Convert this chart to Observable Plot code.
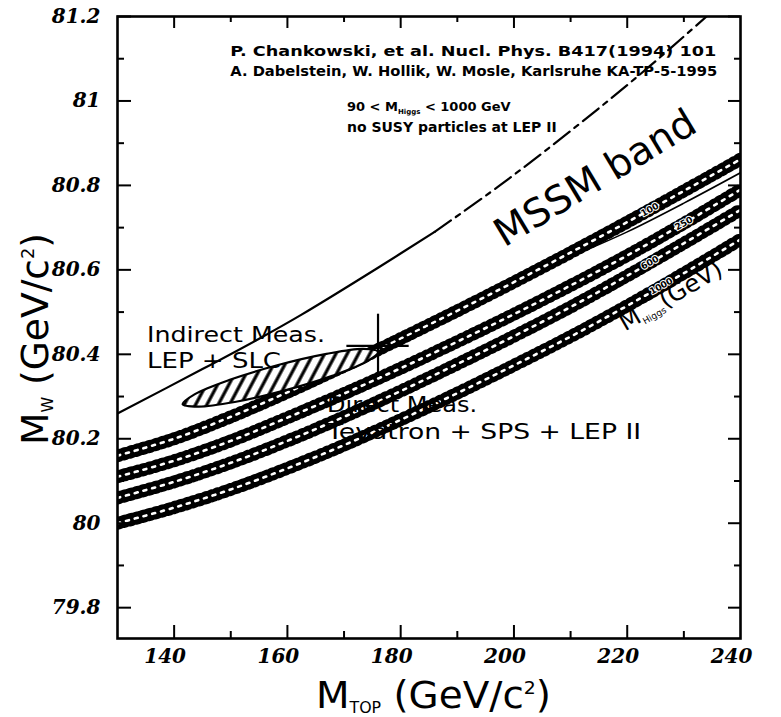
<!DOCTYPE html>
<html>
<head>
<meta charset="utf-8">
<script src="https://cdn.jsdelivr.net/npm/d3@7"></script>
<script src="https://cdn.jsdelivr.net/npm/@observablehq/plot@0.6"></script>
<style>
html,body{margin:0;padding:0;background:#fff;}
#chart svg{display:block;}
</style>
</head>
<body>
<div id="chart"></div>
<script>
// ---------- data ----------
const mTop = [130, 140, 150, 160, 170, 180, 190, 200, 210, 220, 230, 240];
const higgsMasses = ["100", "250", "600", "1000"];
const mwH100  = [80.16, 80.20, 80.252, 80.31, 80.372, 80.437, 80.503, 80.571, 80.641, 80.713, 80.787, 80.862];
const mwH250  = [80.11, 80.148, 80.195, 80.25, 80.307, 80.367, 80.43, 80.495, 80.563, 80.634, 80.71, 80.79];
const mwH600  = [80.06, 80.098, 80.143, 80.195, 80.252, 80.313, 80.377, 80.443, 80.512, 80.586, 80.663, 80.742];
const mwH1000 = [80.00, 80.037, 80.08, 80.13, 80.185, 80.245, 80.308, 80.374, 80.442, 80.515, 80.592, 80.672];
const higgsLabelM = [224, 230, 224, 226];

const mssmUpperM = [130, 145, 155, 162.5, 176, 186, 197.5, 211.5, 223.5, 234];
const mssmUpperW = [80.26, 80.365, 80.437, 80.494, 80.605, 80.69, 80.80, 80.945, 81.077, 81.2];
const mssmSolidCount = 6;
const mssmLowerM = [170, 180, 190, 200, 210, 220, 230, 240];
const mssmLowerW = [80.368, 80.432, 80.497, 80.563, 80.63, 80.69, 80.758, 80.83];

const indirectM = [176.0, 173.4, 166.9, 158.2, 149.7, 143.6, 141.5, 144.2, 150.7, 159.4, 167.9, 174.0];
const indirectW = [80.406, 80.413, 80.401, 80.374, 80.339, 80.305, 80.282, 80.276, 80.287, 80.314, 80.349, 80.383];

const directM = 176, directMErr = 5.5, directW = 80.42, directWErr = 0.075;

const xMajorTicks = [140, 160, 180, 200, 220];
const xMinorTicks = [150, 170, 190, 210, 230];
const xTickValues = [140, 160, 180, 200, 220, 240];
const xTickLabels = ["140", "160", "180", "200", "220", "240"];
const yTickValues = [79.8, 80, 80.2, 80.4, 80.6, 80.8, 81, 81.2];
const yTickLabels = ["79.8", "80", "80.2", "80.4", "80.6", "80.8", "81", "81.2"];
const yMinorTicks = [79.9, 80.1, 80.3, 80.5, 80.7, 80.9, 81.1];

// ---------- tables built from the arrays ----------
const bandSeries = [mwH100, mwH250, mwH600, mwH1000];
const bandRows = [];
higgsMasses.forEach((h, k) => mTop.forEach((m, i) => bandRows.push({h, m, w: bandSeries[k][i]})));
const bandLabelRows = higgsMasses.map((h, k) => ({
  h, m: higgsLabelM[k], w: d3.scaleLinear(mTop, bandSeries[k])(higgsLabelM[k])
}));
const upperRows = mssmUpperM.map((m, i) => ({m, w: mssmUpperW[i]}));
const upperSolid = upperRows.slice(0, mssmSolidCount);
const upperDashed = upperRows.slice(mssmSolidCount - 1);
const lowerRows = mssmLowerM.map((m, i) => ({m, w: mssmLowerW[i]}));
const ellipseRows = indirectM.map((m, i) => ({m, w: indirectW[i]}));
const directRow = [{m: directM, w: directW, m1: directM - directMErr, m2: directM + directMErr, w1: directW - directWErr, w2: directW + directWErr}];

// ---------- layout ----------
const W = 781, H = 717, mL = 117, mT = 16, mR = 41, mB = 79;
const innerW = W - mL - mR, innerH = H - mT - mB;
const serifTick = {fontFamily: "DejaVu Serif", fontWeight: "bold", fontStyle: "italic", fontSize: 20};

const plot = Plot.plot({
  width: W, height: H,
  marginLeft: mL, marginRight: mR, marginTop: mT, marginBottom: mB,
  x: {domain: [130, 240], axis: null},
  y: {domain: [79.727, 81.2], axis: null},
  style: {background: "#fff", color: "#000", fontFamily: "DejaVu Sans", overflow: "visible"},
  marks: [
    // Higgs mass bands (SM)
    Plot.line(bandRows, {x: "m", y: "w", z: "h", stroke: "#000", strokeWidth: 9.5, curve: "catmull-rom", clip: true}),
    Plot.line(bandRows, {x: "m", y: "w", z: "h", stroke: "#000", strokeWidth: 13, strokeDasharray: "2,4.5", curve: "catmull-rom", clip: true}),
    Plot.line(bandRows, {x: "m", y: "w", z: "h", stroke: "#fff", strokeWidth: 2.6, strokeDasharray: "3,6", curve: "catmull-rom", clip: true}),
    Plot.text(bandLabelRows, {x: "m", y: "w", text: "h", rotate: -29, fontSize: 9, fontWeight: "bold", fill: "#000", stroke: "#fff", strokeWidth: 2}),
    // MSSM band edges
    Plot.line(upperSolid, {x: "m", y: "w", stroke: "#000", strokeWidth: 2.2, curve: "catmull-rom", clip: true}),
    Plot.line(upperDashed, {x: "m", y: "w", stroke: "#000", strokeWidth: 2.2, strokeDasharray: "20,6,5,6", curve: "catmull-rom", clip: true}),
    Plot.line(lowerRows, {x: "m", y: "w", stroke: "#000", strokeWidth: 1.6, curve: "catmull-rom", clip: true}),
    // indirect measurement ellipse
    Plot.line(ellipseRows, {x: "m", y: "w", stroke: "#000", strokeWidth: 2.2, fill: "url(#hatch)", curve: "catmull-rom-closed"}),
    // direct measurement cross
    Plot.ruleY(directRow, {y: "w", x1: "m1", x2: "m2", stroke: "#000", strokeWidth: 2.2}),
    Plot.ruleX(directRow, {x: "m", y1: "w1", y2: "w2", stroke: "#000", strokeWidth: 2.2}),
    Plot.dot(directRow, {x: "m", y: "w", r: 3, fill: "#000"}),
    // inward ticks
    Plot.tickX(xMajorTicks, {x: d => d, insetTop: innerH - 13, strokeWidth: 2}),
    Plot.tickX(xMinorTicks, {x: d => d, insetTop: innerH - 7, strokeWidth: 2}),
    Plot.tickX(xMajorTicks, {x: d => d, insetBottom: innerH - 12, strokeWidth: 2}),
    Plot.tickX(xMinorTicks, {x: d => d, insetBottom: innerH - 6, strokeWidth: 2}),
    Plot.tickY(yTickValues, {y: d => d, insetRight: innerW - 14, strokeWidth: 2}),
    Plot.tickY(yMinorTicks, {y: d => d, insetRight: innerW - 7, strokeWidth: 2}),
    Plot.tickY(yTickValues, {y: d => d, insetLeft: innerW - 12, strokeWidth: 2}),
    Plot.tickY(yMinorTicks, {y: d => d, insetLeft: innerW - 6, strokeWidth: 2}),
    // tick labels
    Plot.axisY(yTickValues, {anchor: "left", tickSize: 0, tickPadding: 17, label: null,
      tickFormat: d => yTickLabels[yTickValues.indexOf(d)], ...serifTick}),
    Plot.axisX(xTickValues, {anchor: "bottom", tickSize: 0, tickPadding: 10, label: null, dx: -9,
      tickFormat: d => xTickLabels[xTickValues.indexOf(d)], ...serifTick}),
    Plot.frame({stroke: "#000", strokeWidth: 2.6})
  ]
});

document.getElementById("chart").appendChild(plot);

// ---------- hatch pattern for the ellipse ----------
const root = d3.select(plot);
const defs = root.insert("defs", ":first-child");
const pat = defs.append("pattern").attr("id", "hatch").attr("patternUnits", "userSpaceOnUse")
  .attr("width", 10).attr("height", 10).attr("patternTransform", "rotate(28)");
pat.append("rect").attr("width", 10).attr("height", 10).attr("fill", "#fff");
pat.append("line").attr("x1", 2).attr("y1", 0).attr("x2", 2).attr("y2", 10).attr("stroke", "#000").attr("stroke-width", 3.2);

// ---------- annotations positioned through the plot's scales ----------
const sx = plot.scale("x"), sy = plot.scale("y");
const X = v => sx.apply(v), Y = v => sy.apply(v);
const g = root.append("g").attr("class", "annotations").attr("fill", "#000");

function addText(x, y, parts, o = {}) {
  const t = g.append("text").attr("x", x).attr("y", y)
    .attr("font-family", o.family || "DejaVu Sans")
    .attr("font-size", o.size || 14)
    .attr("font-weight", o.weight || "normal")
    .attr("text-anchor", o.anchor || "start");
  if (o.rotate) t.attr("transform", `rotate(${o.rotate},${x},${y})`);
  if (o.length) t.attr("textLength", o.length).attr("lengthAdjust", "spacingAndGlyphs");
  let shift = 0;
  parts.forEach(p => {
    if (typeof p === "string") {
      t.append("tspan").attr("dy", -shift).text(p); shift = 0;
    } else {
      t.append("tspan").attr("font-size", p.size).attr("dy", p.dy - shift).text(p.t);
      shift = p.dy;
    }
  });
  return t;
}

// references and conditions
addText(X(150), Y(81.105), ["P. Chankowski, et al. Nucl. Phys. B417(1994) 101"], {size: 14, weight: "bold", length: 486});
addText(X(150), Y(81.058), ["A. Dabelstein, W. Hollik, W. Mosle, Karlsruhe KA-TP-5-1995"], {size: 14, weight: "bold", length: 487});
addText(X(170.6), Y(80.975), ["90 < M", {t: "Higgs", size: 7, dy: 3}, " < 1000 GeV"], {size: 13, weight: "bold"});
addText(X(170.6), Y(80.926), ["no SUSY particles at LEP II"], {size: 14, weight: "bold"});

// band labels
addText(X(215.6), Y(80.79), ["MSSM band"], {size: 39, anchor: "middle", rotate: -31});
addText(X(219.7), Y(80.453), ["M", {t: "Higgs", size: 9, dy: 4}, "(GeV)"], {size: 24, rotate: -30});

// measurement labels
addText(X(135.3), Y(80.428), ["Indirect Meas."], {size: 22, length: 178});
addText(X(135.3), Y(80.367), ["LEP + SLC"], {size: 22, length: 134});
addText(X(167.1), Y(80.263), ["Direct Meas."], {size: 22, length: 150});
addText(X(167.1), Y(80.198), ["Tevatron + SPS + LEP II"], {size: 22, length: 314});

// axis titles
const [r0, r1] = sx.range, [q0, q1] = sy.range;
addText((r0 + r1) / 2 + 5, H - 9, ["M", {t: "TOP", size: 15, dy: 5}, " (GeV/c", {t: "2", size: 18, dy: -14}, ")"], {size: 37, anchor: "middle", length: 235});
const yt = addText(48, (q0 + q1) / 2 + 12, ["M", {t: "W", size: 16, dy: 5}, " (GeV/c", {t: "2", size: 18, dy: -14}, ")"], {size: 38, anchor: "middle", length: 212});
yt.attr("transform", `rotate(-90,48,${(q0 + q1) / 2 + 12})`);
</script>
</body>
</html>
